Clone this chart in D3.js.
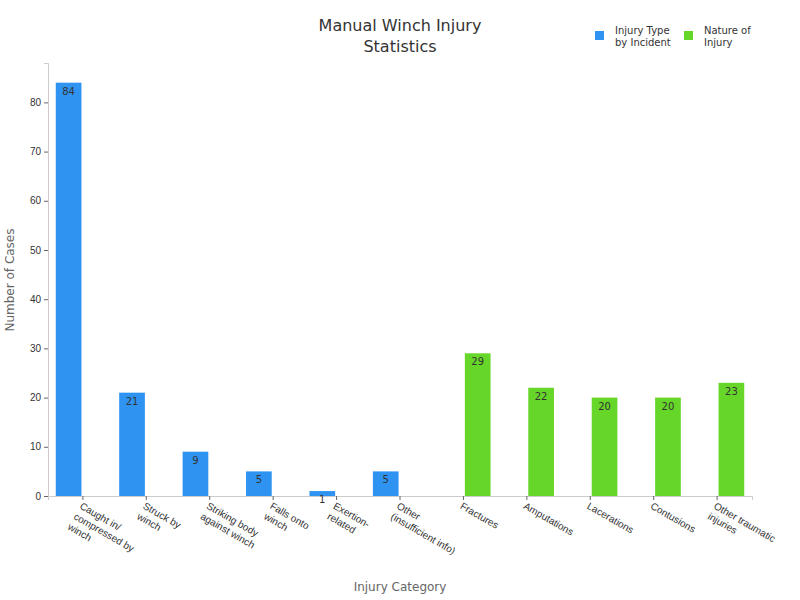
<!DOCTYPE html><html><head><meta charset="utf-8"><script src="https://cdn.jsdelivr.net/npm/d3@7"></script>
<style>body{margin:0;background:#fff;font-family:"DejaVu Sans",sans-serif}</style></head><body><svg id="c" width="800" height="600"></svg>
<script>
const categories=[["Caught in/","compressed by","winch"],["Struck by","winch"],["Striking body","against winch"],["Falls onto","winch"],["Exertion-","related"],["Other","(insufficient info)"],["Fractures"],["Amputations"],["Lacerations"],["Contusions"],["Other traumatic","injuries"]];
const seriesNames=["Injury Type by Incident","Nature of Injury"];
const incidentValues=[84,21,9,5,1,5,null,null,null,null,null];
const natureValues=[null,null,null,null,null,null,29,22,20,20,23];
const yTicks=[0,10,20,30,40,50,60,70,80];
const colors=["#2f93f2","#66d629"];
const svg=d3.select("#c");
const m={l:48,r:48,t:63,b:104};
const W=800-m.l-m.r,H=600-m.t-m.b;
const g=svg.append("g").attr("transform",`translate(${m.l},${m.t})`);
const x=d3.scaleBand().domain(d3.range(categories.length)).range([0,W]).padding(0.1);
const x1=d3.scaleBand().domain([0,1]).range([0,x.bandwidth()]).paddingInner(0.1).paddingOuter(0.05);
const y=d3.scaleLinear().domain([0,88]).range([H,0]);
const ya=g.append("g").call(d3.axisLeft(y).tickValues(yTicks).tickSize(4));
ya.selectAll("text").attr("font-size",10).attr("fill","#333");
const xa=g.append("g").attr("transform",`translate(0,${H})`).call(d3.axisBottom(x).tickSize(4).tickFormat(""));
[ya,xa].forEach(a=>{a.select(".domain").attr("stroke","#ccc");a.selectAll(".tick line").attr("stroke","#666");});
xa.selectAll(".tick").each(function(d){
  const t=d3.select(this).append("text").attr("transform","translate(-4,12) rotate(30)").attr("text-anchor","start").attr("font-size",10).attr("fill","#333");
  categories[d].forEach((s,i)=>t.append("tspan").attr("x",0).attr("dy",i?12:0).text(s));
});
[incidentValues,natureValues].forEach((vals,si)=>{
  vals.forEach((v,i)=>{
    if(v==null)return;
    g.append("rect").attr("x",x(i)+x1(si)).attr("width",x1.bandwidth()).attr("y",y(v)).attr("height",H-y(v)).attr("fill",colors[si]);
    g.append("text").attr("x",x(i)+x1(si)+x1.bandwidth()/2).attr("y",y(v)+12).attr("text-anchor","middle").attr("font-size",10).attr("fill","#333").text(v);
  });
});
svg.append("text").attr("x",400).attr("y",31).attr("text-anchor","middle").attr("font-size",16).attr("fill","#333").text("Manual Winch Injury");
svg.append("text").attr("x",400).attr("y",52).attr("text-anchor","middle").attr("font-size",16).attr("fill","#333").text("Statistics");
svg.append("text").attr("x",400).attr("y",591).attr("text-anchor","middle").attr("font-size",12).attr("fill","#666").text("Injury Category");
svg.append("text").attr("transform","translate(14,280) rotate(-90)").attr("text-anchor","middle").attr("font-size",12).attr("fill","#666").text("Number of Cases");
const legLines=[["Injury Type","by Incident"],["Nature of","Injury"]];
[595,684].forEach((lx,i)=>{
  svg.append("rect").attr("x",lx).attr("y",31).attr("width",9).attr("height",9).attr("fill",colors[i]);
  const t=svg.append("text").attr("font-size",10).attr("fill","#333");
  legLines[i].forEach((s,j)=>t.append("tspan").attr("x",lx+20).attr("y",34+j*12).text(s));
});
</script></body></html>
